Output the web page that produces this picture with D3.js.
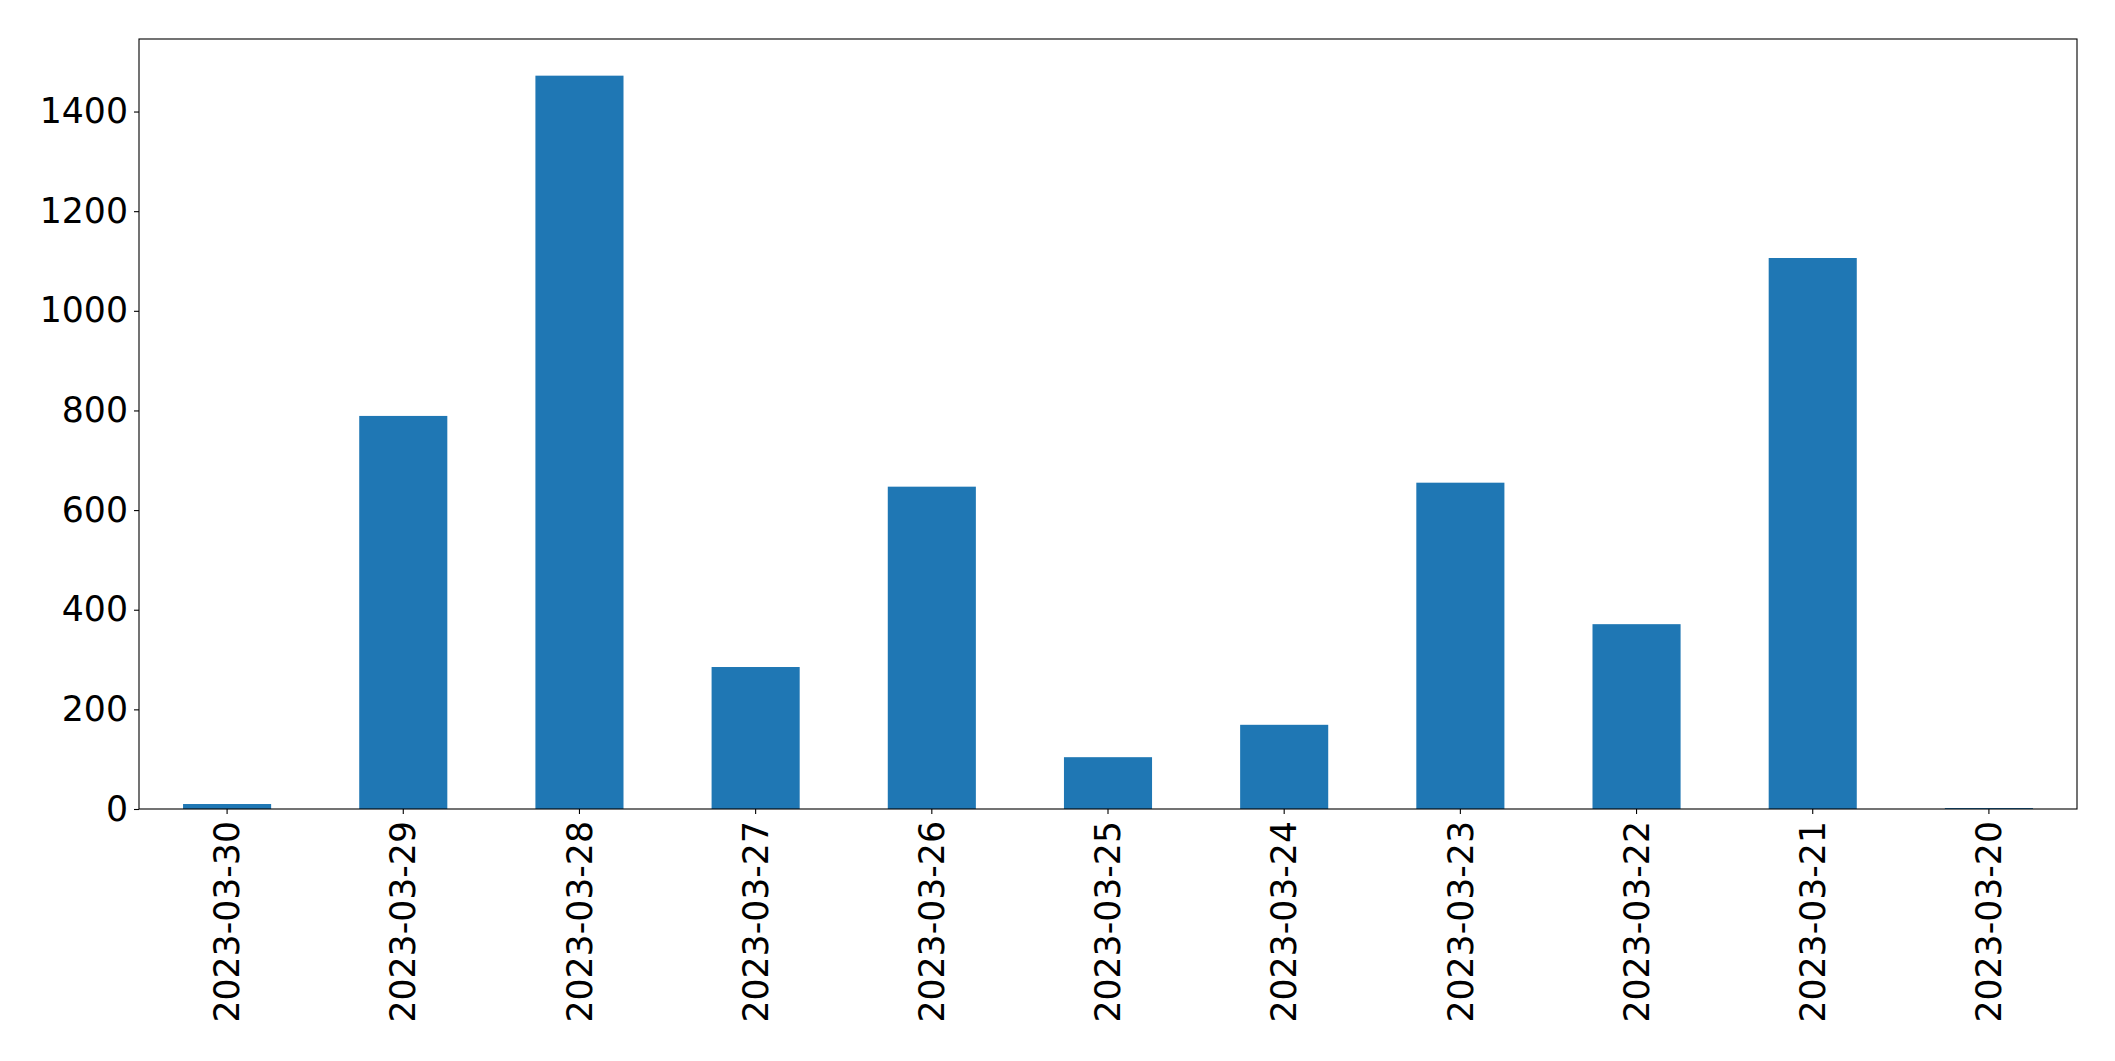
<!DOCTYPE html>
<html>
<head>
<meta charset="utf-8">
<script src="https://cdn.jsdelivr.net/npm/d3@7"></script>
<style>
  html, body { margin: 0; padding: 0; background: #fff; }
  svg { display: block; }
  text { font-family: "DejaVu Sans", sans-serif; }
</style>
</head>
<body>
<svg id="chart" width="2115" height="1061"></svg>
<script>
const categories = ["2023-03-30","2023-03-29","2023-03-28","2023-03-27","2023-03-26","2023-03-25","2023-03-24","2023-03-23","2023-03-22","2023-03-21","2023-03-20"];
const values = [10, 789, 1472, 285, 647, 104, 169, 655, 371, 1106, 2];
const yTicks = [0, 200, 400, 600, 800, 1000, 1200, 1400];

const W = 2115, H = 1061;
const margin = {left: 139, right: 2077, top: 39, bottom: 809};
const svg = d3.select("#chart");

const x = d3.scaleBand().domain(categories)
  .range([margin.left, margin.right])
  .paddingInner(0.5).paddingOuter(0.25);
const yMax = d3.max(values) * 1.05;
const y = d3.scaleLinear().domain([0, yMax]).range([margin.bottom, margin.top]);

svg.append("g").selectAll("rect").data(values).join("rect")
  .attr("x", (d, i) => x(categories[i]))
  .attr("width", x.bandwidth())
  .attr("y", d => y(d))
  .attr("height", d => y(0) - y(d))
  .attr("fill", "#1f77b4");

const fontSize = 34.7;
const yAxis = svg.append("g")
  .attr("transform", `translate(${margin.left},0)`)
  .call(d3.axisLeft(y).tickValues(yTicks).tickFormat(d3.format("d")).tickSize(5).tickPadding(6));
yAxis.select(".domain").remove();
yAxis.selectAll("text").attr("font-size", fontSize).attr("fill", "#000");
yAxis.selectAll("line").attr("stroke", "#000").attr("stroke-width", 1.1);

const xAxis = svg.append("g")
  .attr("transform", `translate(0,${margin.bottom})`)
  .call(d3.axisBottom(x).tickSize(5).tickPadding(6));
xAxis.select(".domain").remove();
xAxis.selectAll("line").attr("stroke", "#000").attr("stroke-width", 1.1);
xAxis.selectAll("text")
  .attr("font-size", fontSize).attr("fill", "#000")
  .attr("transform", "rotate(-90)")
  .attr("text-anchor", "end")
  .attr("dy", "0.35em")
  .attr("x", -12)
  .attr("y", 0);

svg.append("rect")
  .attr("x", margin.left).attr("y", margin.top)
  .attr("width", margin.right - margin.left)
  .attr("height", margin.bottom - margin.top)
  .attr("fill", "none").attr("stroke", "#000").attr("stroke-width", 1.1);
</script>
</body>
</html>
